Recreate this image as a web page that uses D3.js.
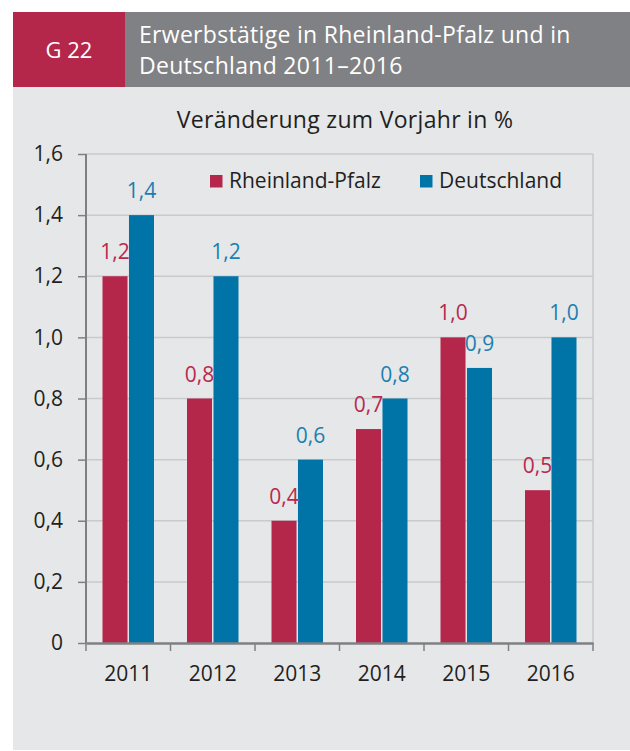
<!DOCTYPE html>
<html>
<head>
<meta charset="utf-8">
<script src="https://cdn.jsdelivr.net/npm/d3@7"></script>
<style>
  html, body { margin: 0; padding: 0; background: #ffffff; }
  svg { display: block; font-family: "Open Sans", "Noto Sans", sans-serif; }
</style>
</head>
<body>
<div id="chart"></div>
<script>
// data
const years = ['2011', '2012', '2013', '2014', '2015', '2016'];
const seriesNames = ['Rheinland-Pfalz', 'Deutschland'];
const rlpValues = [1.2, 0.8, 0.4, 0.7, 1.0, 0.5];
const deValues = [1.4, 1.2, 0.6, 0.8, 0.9, 1.0];
const yTicks = [0, 0.2, 0.4, 0.6, 0.8, 1.0, 1.2, 1.4, 1.6];

const colors = ['#b5264b', '#0074a6'];
const labelColors = ['#b8294f', '#1a7fb0'];

const dims = {
  width: 630,
  height: 751,
  margin: { top: 154, bottom: 108, left: 86, right: 37 }
};
dims.ctrWidth = dims.width - dims.margin.left - dims.margin.right;
dims.ctrHeight = dims.height - dims.margin.top - dims.margin.bottom;

const svg = d3.select('#chart')
  .append('svg')
  .attr('width', dims.width)
  .attr('height', dims.height);

// panel + header
svg.append('rect').attr('x', 13).attr('y', 87).attr('width', 617).attr('height', 663).attr('fill', '#e6e7e9');
svg.append('rect').attr('x', 13).attr('y', 12).attr('width', 617).attr('height', 75).attr('fill', '#808184');
svg.append('rect').attr('x', 13).attr('y', 12).attr('width', 112).attr('height', 75).attr('fill', '#b5264b');

svg.append('text')
  .attr('x', 69).attr('y', 58)
  .attr('text-anchor', 'middle')
  .attr('fill', '#fff')
  .style('font-size', '22px')
  .text('G 22');

svg.append('text')
  .attr('fill', '#fff')
  .style('font-size', '23px')
  .style('letter-spacing', '0.3px')
  .selectAll('tspan')
  .data(['Erwerbstätige in Rheinland-Pfalz und in', 'Deutschland 2011–2016'])
  .join('tspan')
  .attr('x', 139)
  .attr('y', (d, i) => 43 + i * 31)
  .text(d => d);

svg.append('text')
  .attr('x', 345).attr('y', 128)
  .attr('text-anchor', 'middle')
  .attr('fill', '#231f20')
  .style('font-size', '23px')
  .style('letter-spacing', '0.3px')
  .text('Veränderung zum Vorjahr in %');

const ctr = svg.append('g')
  .attr('transform', `translate(${dims.margin.left}, ${dims.margin.top})`);

// scales
const xScale = d3.scaleBand()
  .domain(years)
  .range([0, dims.ctrWidth]);

const xSub = d3.scaleBand()
  .domain(seriesNames)
  .range([16.5, xScale.bandwidth() - 16.5])
  .paddingInner(0.055);

const yScale = d3.scaleLinear()
  .domain([0, 1.6])
  .range([dims.ctrHeight, 0]);

const fmt = v => d3.format('.1f')(v).replace('.', ',');

// gridlines + frame
ctr.append('g')
  .selectAll('line')
  .data(yTicks.slice(1))
  .join('line')
  .attr('x1', 0).attr('x2', dims.ctrWidth)
  .attr('y1', d => yScale(d)).attr('y2', d => yScale(d))
  .attr('stroke', '#c9cacc')
  .attr('stroke-width', 1.5);

ctr.append('line')
  .attr('x1', dims.ctrWidth).attr('x2', dims.ctrWidth)
  .attr('y1', 0).attr('y2', dims.ctrHeight)
  .attr('stroke', '#c9cacc')
  .attr('stroke-width', 1.5);

// bars
const rows = years.map((y, i) => ({ year: y, values: [rlpValues[i], deValues[i]] }));

const groups = ctr.selectAll('g.year')
  .data(rows)
  .join('g')
  .attr('class', 'year')
  .attr('transform', d => `translate(${xScale(d.year)},0)`);

groups.selectAll('rect')
  .data(d => d.values.map((v, k) => ({ key: seriesNames[k], k, v })))
  .join('rect')
  .attr('x', d => xSub(d.key))
  .attr('width', xSub.bandwidth())
  .attr('y', d => yScale(d.v))
  .attr('height', d => dims.ctrHeight - yScale(d.v))
  .attr('fill', d => colors[d.k]);

groups.selectAll('text')
  .data(d => d.values.map((v, k) => ({ key: seriesNames[k], k, v })))
  .join('text')
  .attr('x', d => xSub(d.key) + xSub.bandwidth() / 2)
  .attr('y', d => yScale(d.v) - 17)
  .attr('text-anchor', 'middle')
  .attr('fill', d => labelColors[d.k])
  .style('font-size', '21px')
  .text(d => fmt(d.v));

// axes
const yAxis = d3.axisLeft(yScale)
  .tickValues(yTicks)
  .tickSize(8)
  .tickPadding(15)
  .tickFormat(d => d === 0 ? '0' : fmt(d));

const yAxisGroup = ctr.append('g').call(yAxis);
yAxisGroup.select('.domain').attr('stroke', '#7f8083').attr('stroke-width', 2).attr('d', `M0,0V${dims.ctrHeight}`);
yAxisGroup.selectAll('.tick line').attr('stroke', '#7f8083').attr('stroke-width', 1.5);
yAxisGroup.selectAll('.tick text')
  .attr('fill', '#231f20')
  .style('font-size', '21px')
  .style('font-family', '"Open Sans", "Noto Sans", sans-serif');

const xAxis = d3.axisBottom(xScale).tickSize(0).tickPadding(23);
const xAxisGroup = ctr.append('g')
  .attr('transform', `translate(0, ${dims.ctrHeight})`)
  .call(xAxis);
xAxisGroup.select('.domain').attr('stroke', '#7f8083').attr('stroke-width', 2.5);
xAxisGroup.selectAll('.tick text')
  .attr('fill', '#231f20')
  .style('font-size', '21px')
  .style('font-family', '"Open Sans", "Noto Sans", sans-serif');

// category separators below the axis
xAxisGroup.append('g')
  .selectAll('line')
  .data(years.map(y => xScale(y)).concat([dims.ctrWidth]))
  .join('line')
  .attr('x1', d => d).attr('x2', d => d)
  .attr('y1', 0).attr('y2', 8)
  .attr('stroke', '#7f8083')
  .attr('stroke-width', 1.5);

// legend
const legend = svg.append('g')
  .selectAll('g')
  .data(seriesNames)
  .join('g')
  .attr('transform', (d, i) => `translate(${[210, 420][i]}, 175)`);

legend.append('rect')
  .attr('width', 12.5).attr('height', 12.5)
  .attr('fill', (d, i) => colors[i]);

legend.append('text')
  .attr('x', 19).attr('y', 13)
  .attr('fill', '#231f20')
  .style('font-size', '21px')
  .text(d => d);
</script>
</body>
</html>
